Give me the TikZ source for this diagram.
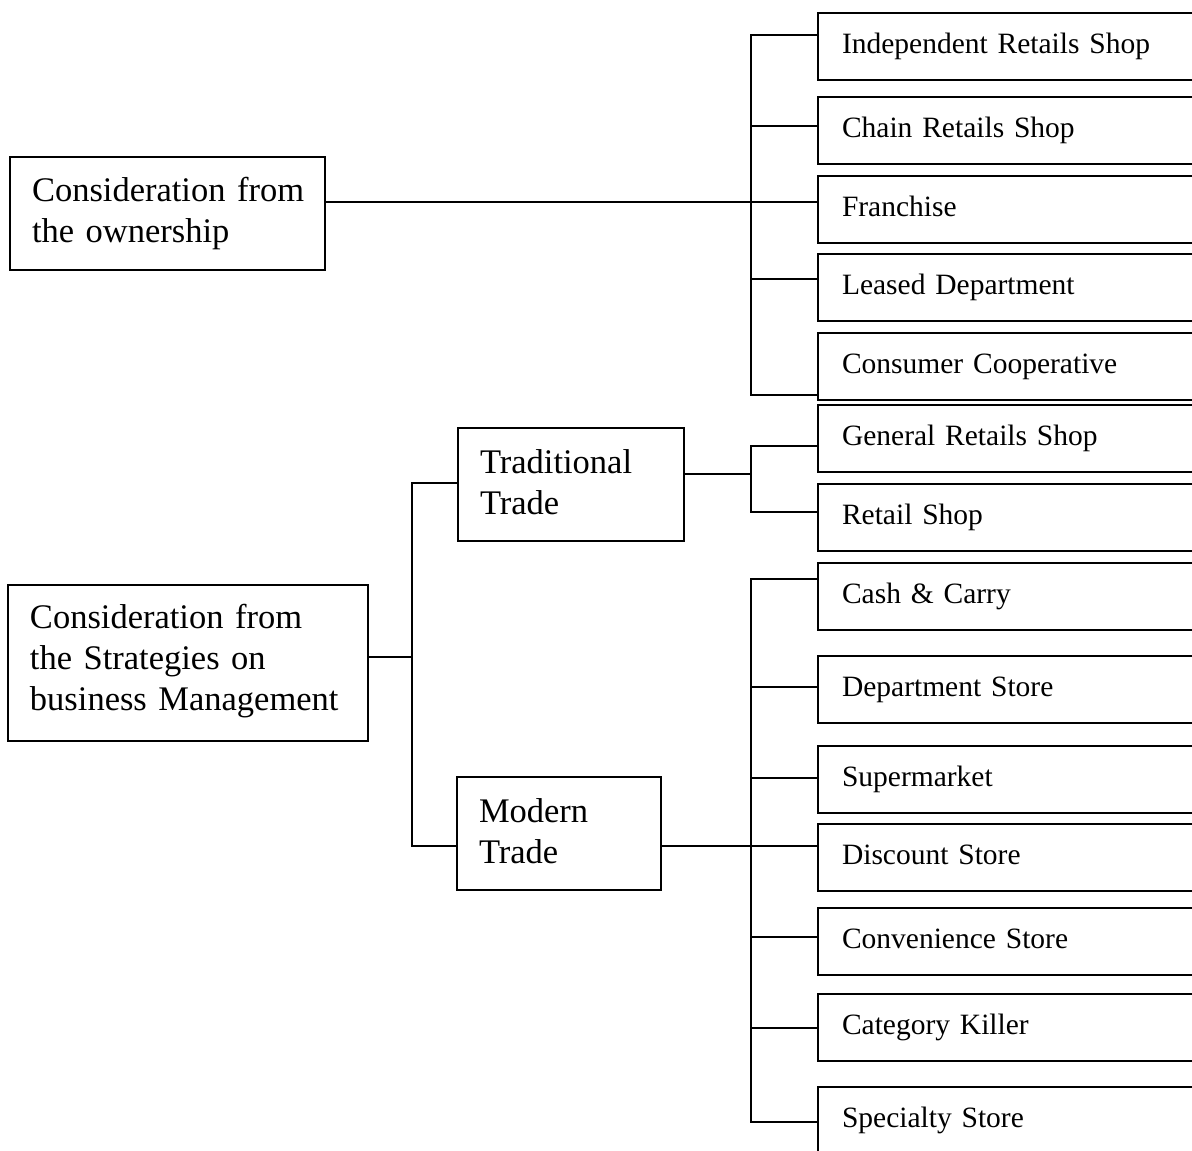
\documentclass[tikz,border=0pt]{standalone}
\usepackage{fontspec}
\setmainfont{Liberation Serif}
\newcommand{\lowdepth}{\rule[-5pt]{0pt}{5pt}}
\begin{document}
\begin{tikzpicture}[x=1pt,y=-1pt,line width=2pt,
  lbox/.style={draw, rectangle, anchor=north west, outer sep=0pt,
    align=left, inner xsep=22pt, inner ysep=0pt,
    font=\fontsize{34.5}{41}\selectfont},
  rbox/.style={draw, rectangle, anchor=north west, outer sep=0pt,
    minimum width=440pt, minimum height=67pt, text width=392pt,
    inner xsep=24pt, inner ysep=0pt, align=left,
    text height=21pt, text depth=7pt,
    font=\fontsize{29.5}{36}\selectfont},
  link/.style={line width=2pt}]
\clip (0,0) rectangle (1192,1151);
\fill[white] (0,0) rectangle (1192,1151);

% left-hand categories
\node[lbox, text width=271pt, minimum height=113pt] (own) at (10,157)
  {\mbox{Consideration from}\\\mbox{the ownership}\lowdepth};
\node[lbox, text width=316pt, minimum height=156pt] (strat) at (8,585)
  {\mbox{Consideration from}\\\mbox{the Strategies on}\\\mbox{business Management}\strut};
\node[lbox, text width=182pt, minimum height=113pt] (trad) at (458,428)
  {\mbox{Traditional}\\\mbox{Trade}\lowdepth};
\node[lbox, text width=160pt, minimum height=113pt] (mod) at (457,777)
  {\mbox{Modern}\\\mbox{Trade}\lowdepth};

% right-hand store types
\node[rbox] (b1)  at (818,13)   {Independent Retails Shop};
\node[rbox] (b2)  at (818,97)   {Chain Retails Shop};
\node[rbox] (b3)  at (818,176)  {Franchise};
\node[rbox] (b4)  at (818,254)  {Leased Department};
\node[rbox] (b5)  at (818,333)  {Consumer Cooperative};
\node[rbox] (b6)  at (818,405)  {General Retails Shop};
\node[rbox] (b7)  at (818,484)  {Retail Shop};
\node[rbox] (b8)  at (818,563)  {Cash \& Carry};
\node[rbox] (b9)  at (818,656)  {Department Store};
\node[rbox] (b10) at (818,746)  {Supermarket};
\node[rbox] (b11) at (818,824)  {Discount Store};
\node[rbox] (b12) at (818,908)  {Convenience Store};
\node[rbox] (b13) at (818,994)  {Category Killer};
\node[rbox] (b14) at (818,1087) {Specialty Store};

% ownership bracket
\coordinate (oj) at (751,202);
\coordinate (oTop) at (751,35);
\coordinate (o2) at (751,126);
\coordinate (o4) at (751,279);
\coordinate (oBot) at (751,395);
\draw[link] (own.east |- oj) -- (b3.west |- oj);
\draw[link] (b1.west |- oTop) -- (oTop) -- (oBot) -- (b5.west |- oBot);
\draw[link] (o2) -- (b2.west |- o2);
\draw[link] (o4) -- (b4.west |- o4);

% strategy split
\coordinate (sj) at (412,657);
\coordinate (sTop) at (412,483);
\coordinate (sBot) at (412,846);
\draw[link] (strat.east |- sj) -- (sj);
\draw[link] (trad.west |- sTop) -- (sTop) -- (sBot) -- (mod.west |- sBot);

% traditional trade bracket
\coordinate (tj) at (751,474);
\coordinate (tTop) at (751,446);
\coordinate (tBot) at (751,512);
\draw[link] (trad.east |- tj) -- (tj);
\draw[link] (b6.west |- tTop) -- (tTop) -- (tBot) -- (b7.west |- tBot);

% modern trade bracket
\coordinate (mj) at (751,846);
\coordinate (mTop) at (751,579);
\coordinate (m9) at (751,687);
\coordinate (m10) at (751,778);
\coordinate (m12) at (751,937);
\coordinate (m13) at (751,1028);
\coordinate (mBot) at (751,1122);
\draw[link] (mod.east |- mj) -- (b11.west |- mj);
\draw[link] (b8.west |- mTop) -- (mTop) -- (mBot) -- (b14.west |- mBot);
\draw[link] (m9) -- (b9.west |- m9);
\draw[link] (m10) -- (b10.west |- m10);
\draw[link] (m12) -- (b12.west |- m12);
\draw[link] (m13) -- (b13.west |- m13);
\end{tikzpicture}
\end{document}
